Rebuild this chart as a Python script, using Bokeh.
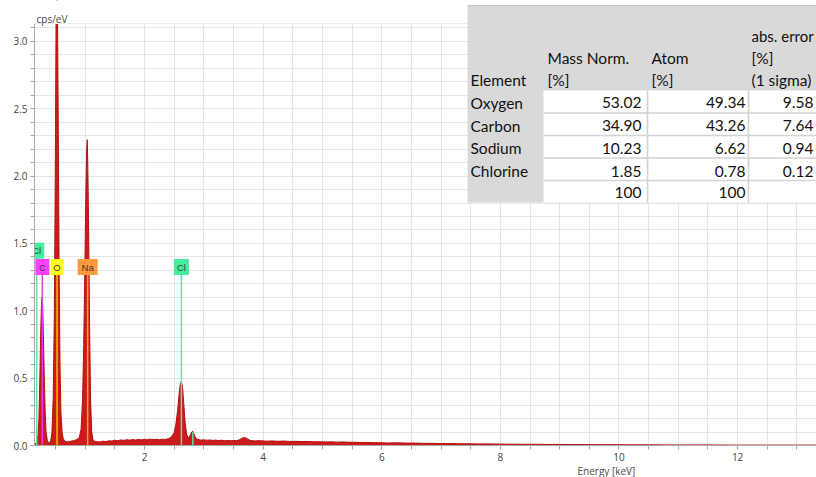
from bokeh.plotting import figure
from bokeh.models import Range1d, SingleIntervalTicker, Label, BoxAnnotation, PrintfTickFormatter, Title
from bokeh.embed import file_html
from bokeh.resources import INLINE

# ---------------- data ----------------
energy = [0.145, 0.16, 0.175, 0.19, 0.205, 0.22, 0.235, 0.25, 0.262, 0.272, 0.282, 0.295, 0.31, 0.325,
          0.34, 0.36, 0.38, 0.40, 0.42, 0.44, 0.46, 0.48, 0.495, 0.51, 0.52, 0.53, 0.545, 0.56, 0.575,
          0.59, 0.61, 0.63, 0.66, 0.70, 0.74, 0.78, 0.82, 0.86, 0.90, 0.93, 0.955, 0.975, 0.995, 1.01,
          1.025, 1.035, 1.045, 1.06, 1.075, 1.09, 1.11, 1.13, 1.16,
          1.20, 1.25, 1.30, 1.35, 1.40, 1.45, 1.50, 1.55, 1.60, 1.65, 1.70, 1.75, 1.80, 1.85, 1.90,
          1.95, 2.00, 2.05, 2.10, 2.15, 2.20, 2.25, 2.30, 2.35, 2.40, 2.45, 2.50, 2.53, 2.56, 2.585,
          2.605, 2.62, 2.64, 2.66, 2.685, 2.71, 2.74, 2.77, 2.795, 2.815, 2.835, 2.86, 2.90, 2.95,
          3.00, 3.05, 3.10, 3.15, 3.20, 3.25, 3.30, 3.35, 3.40, 3.45, 3.50, 3.55, 3.60, 3.65, 3.69,
          3.73, 3.78, 3.85, 3.95, 4.05, 4.15, 4.25, 4.35, 4.45, 4.55, 4.65, 4.75, 4.85, 4.95, 5.05,
          5.15, 5.25, 5.35, 5.45, 5.55, 5.65, 5.75, 5.85, 5.95, 6.1, 6.25, 6.4, 6.55, 6.7, 6.85, 7.0,
          7.15, 7.3, 7.45, 7.6, 7.75, 7.9, 8.05, 8.2, 8.4, 8.6, 8.8, 9.0, 9.2, 9.4, 9.6, 9.8, 10.0,
          10.2, 10.4, 10.6, 10.8, 11.0, 11.5, 12.0, 12.5, 13.0, 13.4]
cps = [0.0, 0.01, 0.02, 0.04, 0.08, 0.2, 0.5, 0.85, 1.04, 1.1, 1.04, 0.82, 0.5, 0.25,
       0.1, 0.04, 0.02, 0.02, 0.04, 0.1, 0.35, 1.0, 2.0, 3.2, 3.6, 3.4, 2.4, 1.3, 0.6,
       0.25, 0.1, 0.05, 0.03, 0.026, 0.03, 0.034, 0.038, 0.045, 0.06, 0.12, 0.33, 0.75, 1.35, 1.85,
       2.2, 2.27, 2.05, 1.5, 0.85, 0.35, 0.1, 0.045, 0.03,
       0.028, 0.026, 0.032, 0.029, 0.035, 0.033, 0.039, 0.036, 0.041, 0.038, 0.043, 0.040, 0.044, 0.041, 0.045,
       0.042, 0.046, 0.043, 0.047, 0.044, 0.046, 0.043, 0.047, 0.045, 0.05, 0.062, 0.095, 0.16, 0.27, 0.39,
       0.46, 0.475, 0.44, 0.32, 0.17, 0.08, 0.055, 0.075, 0.10, 0.105, 0.085, 0.055, 0.044, 0.040,
       0.042, 0.039, 0.041, 0.038, 0.040, 0.037, 0.039, 0.036, 0.038, 0.035, 0.037, 0.036, 0.042, 0.055, 0.06,
       0.05, 0.038, 0.034, 0.036, 0.032, 0.034, 0.031, 0.033, 0.030, 0.031, 0.029, 0.030, 0.027, 0.028, 0.026,
       0.027, 0.025, 0.026, 0.024, 0.024, 0.022, 0.023, 0.021, 0.021, 0.019, 0.020, 0.018, 0.018, 0.016, 0.016, 0.014,
       0.015, 0.013, 0.013, 0.012, 0.012, 0.011, 0.010, 0.010, 0.009, 0.009, 0.008, 0.008, 0.007, 0.007, 0.006, 0.006, 0.006,
       0.005, 0.005, 0.005, 0.004, 0.004, 0.004, 0.003, 0.003, 0.003, 0.003]

# element identification markers
marker_names = ["Cl", "C", "O", "Na", "Cl"]
marker_energy = [0.182, 0.277, 0.525, 1.041, 2.622]
kb_energy = [2.815]
kb_height = [0.10]

# quantification table
tbl_elements = ["Oxygen", "Carbon", "Sodium", "Chlorine"]
tbl_mass_norm = [53.02, 34.90, 10.23, 1.85]
tbl_atom = [49.34, 43.26, 6.62, 0.78]
tbl_abs_error = [9.58, 7.64, 0.94, 0.12]
tbl_total = ["100", "100"]

# ---------------- styles ----------------
marker_fill = {"Cl": "#45ee9c", "C": "#ff40ff", "O": "#ffff1a", "Na": "#ff9a3c"}
marker_line = {"Cl": "#5fe3a4", "C": "#e040e0", "O": "#f2c200", "Na": "#f5a040"}
marker_w = {"Cl": 15, "C": 14, "O": 13, "Na": 20}
label_y = [1.445, 1.325, 1.325, 1.325, 1.325]
line_top = [1.39, 1.27, 1.27, 1.27, 1.27]

W, H = 816, 477
FRAME_LEFT = 34          # page px of frame left
ZERO_Y = 445             # page px of y = 0
PPU_Y = 134.7            # px per cps/eV
Y_AXIS_TOP = 3.13        # top of drawn axis (page y ~24)
Y_TOP = ZERO_Y / PPU_Y

p = figure(width=W, height=H, output_backend="svg", toolbar_location=None,
           x_range=Range1d(0.145, 13.33), y_range=Range1d(0, Y_TOP),
           min_border_left=FRAME_LEFT, min_border_right=0, min_border_top=0, min_border_bottom=32)
p.background_fill_color = "white"
p.border_fill_color = "white"
p.outline_line_color = None

p.xaxis.ticker = SingleIntervalTicker(interval=2, num_minor_ticks=4)
p.yaxis.ticker = SingleIntervalTicker(interval=0.5, num_minor_ticks=5)
p.yaxis.formatter = PrintfTickFormatter(format="%.1f")
p.yaxis.bounds = (0, Y_AXIS_TOP)
for ax in (p.xaxis[0], p.yaxis[0]):
    ax.axis_line_color = "#a8a8a8"
    ax.major_tick_line_color = "#a8a8a8"
    ax.minor_tick_line_color = "#a8a8a8"
    ax.major_tick_in = 0
    ax.major_tick_out = 4
    ax.minor_tick_in = 0
    ax.minor_tick_out = 4
    ax.major_label_text_font = "Open Sans"
    ax.major_label_text_font_size = "10px"
    ax.major_label_text_color = "#444444"
    ax.major_label_standoff = 3
for g in (p.xgrid[0], p.ygrid[0]):
    g.grid_line_color = "#e6e6e6"
    g.minor_grid_line_color = "#e6e6e6"

p.add_layout(Title(text="Energy [keV]", align="left", offset=543, text_font="Open Sans",
                   text_font_size="10px", text_font_style="normal", text_color="#4a4a4a",
                   standoff=-3), "below")

# spectrum
p.varea(x=energy, y1=[0] * len(energy), y2=cps, fill_color="#cc1b1b")
p.line(energy, cps, line_color="#b51010", line_width=1)

# element marker lines and labels
p.segment(x0=marker_energy, y0=[0] * len(marker_energy), x1=marker_energy, y1=line_top,
          line_color=[marker_line[n] for n in marker_names], line_width=1.5)
p.segment(x0=kb_energy, y0=[0], x1=kb_energy, y1=kb_height, line_color=marker_line["Cl"], line_width=1.5)
p.rect(x=marker_energy, y=label_y, width=[marker_w[n] for n in marker_names], height=16,
       width_units="screen", height_units="screen",
       fill_color=[marker_fill[n] for n in marker_names], line_color=None)
p.text(x=marker_energy, y=label_y, text=marker_names, text_align="center", text_baseline="middle",
       text_font_size="9.5px", text_color="#3a3a3a")


# ---------------- page-pixel helpers ----------------
def sx(px):
    return px - FRAME_LEFT


def dy(py):
    return (ZERO_Y - py) / PPU_Y


def box(l, r, t, b, color):
    p.add_layout(BoxAnnotation(left=sx(l), right=sx(r), top=dy(t), bottom=dy(b),
                               left_units="screen", right_units="screen",
                               top_units="data", bottom_units="data",
                               fill_color=color, fill_alpha=1, line_color=None, level="overlay"))


def lab(px, py, text, align="left", size="15.5px", color="#111111", font="Lato"):
    p.add_layout(Label(x=sx(px), y=dy(py), x_units="screen", y_units="data", text=text,
                       text_align=align, text_baseline="middle", text_font=font,
                       text_font_size=size, text_color=color, level="overlay"))


# blank area above the plotting region, and its top border line
p.add_layout(BoxAnnotation(bottom=Y_AXIS_TOP, top=Y_TOP + 0.5, left=-1.0, right=20.0,
                           fill_color="white", fill_alpha=1, line_color=None, level="overlay"))
p.add_layout(BoxAnnotation(bottom=Y_AXIS_TOP, top=dy(23.3), fill_color="#b4b4b4", fill_alpha=1,
                           line_color=None, level="overlay"))
lab(36, 18, "cps/eV", size="10px", color="#4a4a4a", font="Open Sans")

# ---------------- table ----------------
box(467, 830, 6, 202, "#d9d9d9")
box(467, 830, 4.5, 6, "#c8c8c8")
box(543, 830, 90, 202, "#ffffff")
for yl in (112.5, 135, 157.5, 180):
    box(543, 830, yl - 0.8, yl + 0.8, "#d2d2d2")
for xl in (647, 748):
    box(xl - 0.8, xl + 0.8, 90, 202, "#d2d2d2")

lab(751, 35, "abs. error", size="15px")
lab(547, 57, "Mass Norm.")
lab(651, 57, "Atom")
lab(751, 57, "[%]")
lab(470, 79, "Element")
lab(547, 79, "[%]")
lab(651, 79, "[%]")
lab(751, 79, "(1 sigma)")

row_y = [102, 125, 147.5, 170.5]
for i, name in enumerate(tbl_elements):
    lab(470, row_y[i], name)
    lab(641, row_y[i], "%.2f" % tbl_mass_norm[i], align="right")
    lab(745, row_y[i], "%.2f" % tbl_atom[i], align="right")
    lab(813, row_y[i], "%.2f" % tbl_abs_error[i], align="right")
lab(641, 192, tbl_total[0], align="right")
lab(745, 192, tbl_total[1], align="right")

open("out.html", "w").write(file_html(p, INLINE))
